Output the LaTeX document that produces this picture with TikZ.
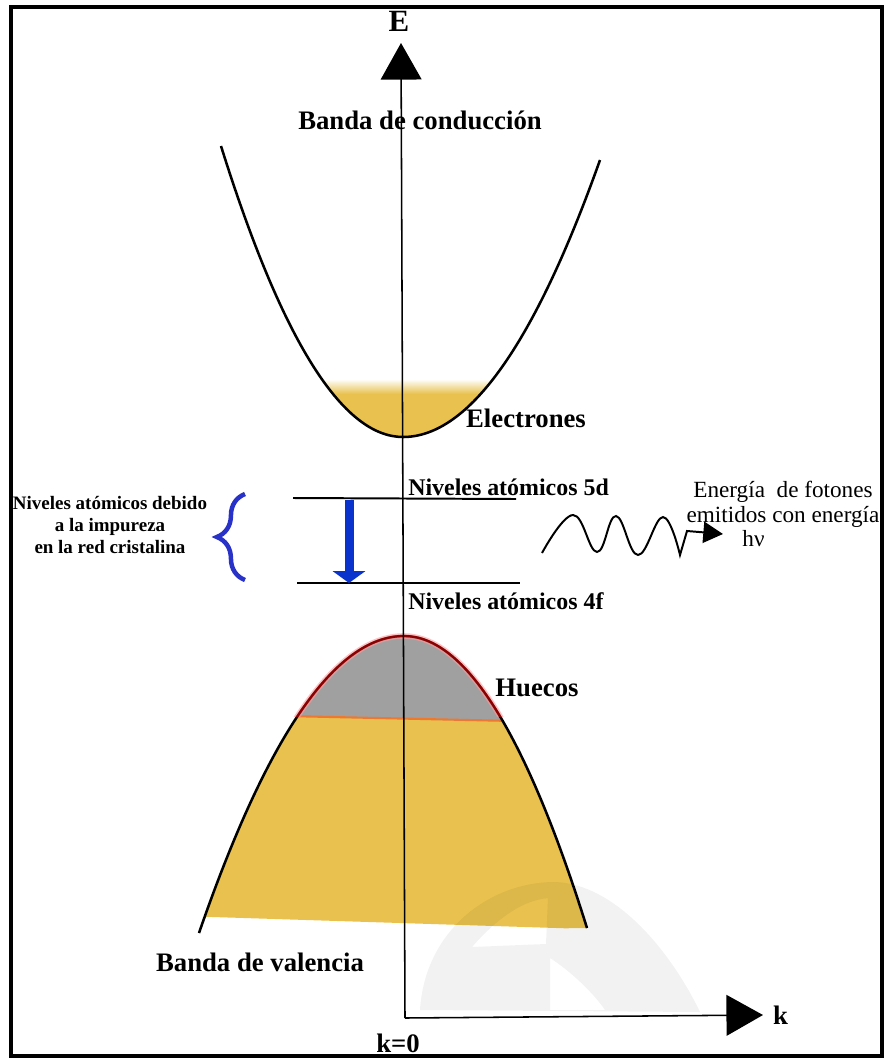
\documentclass[tikz,border=0pt]{standalone}
\usepackage{fontspec}
\setmainfont{Liberation Serif}
\usetikzlibrary{arrows.meta, positioning, decorations.pathreplacing}
\definecolor{gold}{RGB}{232,193,78}
\definecolor{hole}{RGB}{160,160,160}
\definecolor{edge}{RGB}{236,120,50}
\definecolor{blu}{RGB}{10,50,205}
\definecolor{brc}{RGB}{40,50,200}

\begin{document}
\begin{tikzpicture}[x=0.025cm, y=-0.025cm,
    lbl/.style={font=\fontsize{19}{22}\selectfont\bfseries, inner sep=0pt},
    lvl/.style={font=\fontsize{17}{20}\selectfont\bfseries, inner sep=0pt, anchor=west},
    band/.style={line width=1.8pt},
    lvlline/.style={line width=1.4pt},
    axis/.style={line width=1.1pt, -{Triangle[length=26pt, width=29pt]}}
  ]
  \useasboundingbox (0,0) rectangle (887,1059);
  \def\cband{(221,146) .. controls (281.7,340) and (342.3,437) .. (403,437) .. controls (468.7,437) and (534.3,344.7) .. (600,160)}
  \def\vband{(199,933) .. controls (267.3,735) and (335.7,636) .. (404,636) .. controls (465,636) and (526,733.3) .. (587,928)}

  % electrones
  \begin{scope}
    \clip \cband -- cycle;
    \fill[gold] (300,393) rectangle (510,445);
    \shade[top color=white, bottom color=gold] (300,379) rectangle (510,394);
  \end{scope}
  % huecos + banda llena
  \begin{scope}
    \clip \vband -- cycle;
    \fill[hole] (150,600) rectangle (650,730);
    \fill[gold] (150,713) -- (650,724) -- (650,931) -- (150,915) -- cycle;
    \draw[edge, line width=1.5pt] (150,713) -- (650,724);
  \end{scope}
  \fill[black, opacity=0.05, even odd rule]
    (420,1010) .. controls (425,930) and (490,882) .. (555,882)
    .. controls (615,884) and (670,950) .. (700,1012) -- cycle
    (472,947) .. controls (500,915) and (525,900) .. (548,898) -- (546,944) -- cycle
    (550,958) .. controls (572,972) and (595,995) .. (605,1010) -- (550,1010) -- cycle;

  \draw[band] \cband;
  \draw[band] \vband;
  \begin{scope}
    \clip (150,600) rectangle (650,716);
    \draw[red!40, opacity=0.6, line width=4pt] \vband;
    \draw[red!55!black, line width=1.6pt] \vband;
  \end{scope}

  % ejes
  \coordinate (O) at (405,1018);
  \coordinate (Etip) at (401,43);
  \coordinate (ktip) at (763,1015);
  \draw[axis] (O) -- (Etip);
  \draw[axis] (O) -- (ktip);
  \node[lbl, font=\fontsize{22}{24}\selectfont\bfseries] (lblE) at (399,21) {E};
  \node[lbl, right=7pt of ktip] (lblk) {k};
  \node[lbl] (lblk0) at (398,1043) {k=0};

  % niveles
  \coordinate (d5w) at (293,498);
  \coordinate (d5e) at (516,499);
  \coordinate (f4w) at (297,583);
  \coordinate (f4e) at (520,583);
  \draw[lvlline] (d5w) -- (d5e);
  \draw[lvlline] (f4w) -- (f4e);
  \node[lvl] (lbl5d) at (408,487) {Niveles atómicos 5d};
  \node[lvl] (lbl4f) at (408,601) {Niveles atómicos 4f};
  \coordinate (tr0) at (349,500);
  \coordinate (tr1) at (349,583);
  \draw[blu, line width=6.4pt, -{Triangle[length=8.5pt, width=23pt]}] (tr0) -- (tr1);

  \node[font=\fontsize{13.5}{15.6}\selectfont\bfseries, align=center, inner sep=0pt] (lblimp) at (110,525)
    {Niveles atómicos debido\\a la impureza\\en la red cristalina};
  \coordinate (brb) at (245,580);
  \coordinate (brt) at (245,494);
  \draw[brc, line width=3.2pt, decorate, decoration={brace, amplitude=20pt}] (brb) -- (brt);

  % fotones
  \coordinate (wv0) at (542,553);
  \coordinate (wvtip) at (723,534);
  \draw[line width=1.4pt, -{Triangle[length=14pt, width=15pt]}]
    plot[smooth, tension=0.7] coordinates {(wv0) (573,515) (597,552) (616,516) (638,555) (663,517) (680,555)}
    -- (687,531) -- (wvtip);
  \node[font=\fontsize{16.5}{17.5}\selectfont, align=center, inner sep=0pt] (lblfot) at (783,514)
    {Energía\ \ de fotones\\emitidos con energía\\hν\hspace*{42pt}};

  \node[lbl] (lblcond) at (420,120) {Banda de conducción};
  \node[lbl] (lblelec) at (526,418) {Electrones};
  \node[lbl] (lblhue) at (537,688) {Huecos};
  \node[lbl] (lblval) at (260,962) {Banda de valencia};

  \draw[line width=2.2pt] (11,7) rectangle (882,1056);
\end{tikzpicture}
\end{document}
